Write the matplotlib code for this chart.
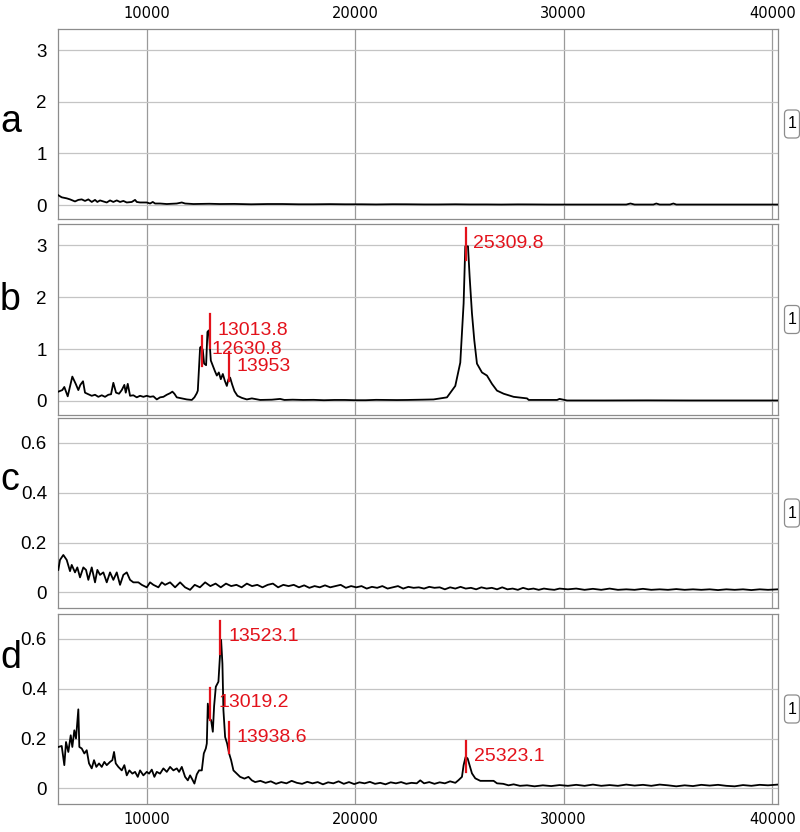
"""
Stacked mass spectra (panels a-d) with labelled peaks.

"""
# %%
import numpy as np
import matplotlib.pyplot as plt
from matplotlib.patches import FancyBboxPatch
from matplotlib.transforms import IdentityTransform, offset_copy

plt.rcParams['font.family'] = ['Liberation Sans', 'DejaVu Sans']

# %% Spectra: (m/z, intensity)
spec_a = np.array([
    (5757, 0.19), (5920, 0.15), (6160, 0.13), (6318, 0.11), (6558, 0.07),
    (6717, 0.10), (6880, 0.11), (7038, 0.08), (7197, 0.11), (7360, 0.06),
    (7518, 0.10), (7629, 0.06), (7758, 0.09), (7917, 0.07), (8080, 0.05),
    (8238, 0.09), (8397, 0.06), (8560, 0.09), (8718, 0.06), (8877, 0.08),
    (9040, 0.05), (9280, 0.06), (9438, 0.10), (9520, 0.06), (9678, 0.05),
    (10000, 0.05), (10158, 0.03), (10288, 0.06), (10398, 0.03), (10638, 0.03),
    (10960, 0.02), (11440, 0.03), (11680, 0.05), (11838, 0.03), (12237, 0.02),
    (13000, 0.025), (13500, 0.02), (14200, 0.022), (15000, 0.015),
    (15800, 0.02), (16500, 0.02), (17300, 0.015), (18000, 0.015),
    (18800, 0.018), (19500, 0.015), (20300, 0.015), (21000, 0.012),
    (21800, 0.016), (22500, 0.015), (23300, 0.012), (24000, 0.012),
    (24800, 0.015), (25500, 0.012), (26300, 0.012), (27000, 0.01),
    (27800, 0.013), (28500, 0.012), (29300, 0.01), (30000, 0.01),
    (31500, 0.01), (33000, 0.01), (33200, 0.03), (33400, 0.01), (34300, 0.01),
    (34440, 0.03), (34600, 0.01), (35100, 0.01), (35260, 0.03), (35400, 0.01),
    (37000, 0.01), (38500, 0.01), (40278, 0.01)])

spec_b = np.array([
    (5757, 0.18), (5949, 0.21), (6045, 0.27), (6208, 0.09), (6429, 0.47),
    (6592, 0.33), (6717, 0.21), (6813, 0.31), (6942, 0.38), (7038, 0.16),
    (7197, 0.13), (7360, 0.10), (7518, 0.12), (7677, 0.08), (7840, 0.11),
    (7998, 0.08), (8157, 0.12), (8286, 0.13), (8397, 0.35), (8526, 0.16),
    (8670, 0.14), (8800, 0.21), (8925, 0.31), (8992, 0.16), (9088, 0.33),
    (9198, 0.10), (9357, 0.11), (9520, 0.07), (9678, 0.10), (9837, 0.08),
    (10000, 0.10), (10158, 0.08), (10317, 0.09), (10480, 0.03), (10638, 0.07),
    (10797, 0.08), (10960, 0.12), (11118, 0.15), (11229, 0.18), (11325, 0.14),
    (11440, 0.07), (11680, 0.05), (11920, 0.03), (12160, 0.02), (12285, 0.07),
    (12400, 0.15), (12448, 0.20), (12558, 1.03), (12622, 1.05), (12688, 0.98),
    (12750, 0.72), (12846, 0.69), (12910, 1.33), (12976, 1.36), (13072, 0.78),
    (13168, 0.68), (13264, 0.58), (13360, 0.49), (13456, 0.55), (13552, 0.42),
    (13648, 0.52), (13744, 0.39), (13840, 0.29), (13917, 0.42), (13998, 0.45),
    (14094, 0.32), (14205, 0.19), (14349, 0.10), (14560, 0.06), (14800, 0.03),
    (15040, 0.05), (15438, 0.02), (16000, 0.025), (16398, 0.04),
    (16600, 0.02), (17000, 0.025), (17500, 0.02), (18000, 0.022),
    (18500, 0.015), (19000, 0.02), (19500, 0.02), (20000, 0.015),
    (20500, 0.015), (21000, 0.022), (21500, 0.02), (22000, 0.018),
    (22500, 0.02), (23200, 0.025), (23757, 0.03), (24400, 0.07),
    (24798, 0.29), (25038, 0.74), (25198, 1.88), (25278, 2.98), (25408, 2.98),
    (25486, 2.40), (25598, 1.69), (25710, 1.17), (25838, 0.72), (26078, 0.55),
    (26318, 0.49), (26558, 0.33), (26798, 0.20), (27117, 0.14), (27597, 0.08),
    (28240, 0.05), (28320, 0.02), (29680, 0.02), (29800, 0.04), (30160, 0.01),
    (32000, 0.01), (34000, 0.012), (36000, 0.01), (38000, 0.01),
    (40278, 0.01)])

spec_c = np.array([
    (5757, 0.09), (5838, 0.13), (5997, 0.15), (6160, 0.13), (6318, 0.085),
    (6400, 0.11), (6558, 0.08), (6669, 0.10), (6798, 0.06), (6957, 0.10),
    (7086, 0.09), (7197, 0.05), (7360, 0.10), (7518, 0.04), (7629, 0.09),
    (7758, 0.07), (7917, 0.08), (8080, 0.04), (8238, 0.08), (8397, 0.05),
    (8560, 0.08), (8718, 0.03), (8877, 0.07), (9040, 0.08), (9198, 0.05),
    (9357, 0.04), (9597, 0.04), (9760, 0.03), (10000, 0.02), (10158, 0.04),
    (10317, 0.03), (10557, 0.02), (10720, 0.04), (10878, 0.03), (11118, 0.04),
    (11358, 0.02), (11598, 0.04), (11838, 0.02), (12078, 0.01), (12300, 0.03),
    (12550, 0.02), (12800, 0.04), (13050, 0.025), (13300, 0.035),
    (13550, 0.02), (13800, 0.035), (14050, 0.025), (14300, 0.03),
    (14550, 0.02), (14800, 0.035), (15050, 0.025), (15300, 0.03),
    (15550, 0.02), (15800, 0.03), (16050, 0.035), (16300, 0.02),
    (16550, 0.03), (16800, 0.025), (17050, 0.03), (17300, 0.02),
    (17550, 0.028), (17800, 0.018), (18050, 0.025), (18300, 0.02),
    (18550, 0.028), (18800, 0.02), (19050, 0.025), (19300, 0.03),
    (19550, 0.018), (19800, 0.025), (20050, 0.02), (20300, 0.025),
    (20550, 0.015), (20800, 0.022), (21050, 0.018), (21300, 0.025),
    (21550, 0.015), (21800, 0.02), (22050, 0.025), (22300, 0.015),
    (22550, 0.022), (22800, 0.018), (23050, 0.02), (23300, 0.015),
    (23550, 0.022), (23800, 0.018), (24050, 0.02), (24300, 0.012),
    (24550, 0.02), (24800, 0.015), (25050, 0.022), (25300, 0.015),
    (25550, 0.018), (25800, 0.012), (26050, 0.02), (26300, 0.015),
    (26550, 0.018), (26800, 0.012), (27050, 0.02), (27300, 0.012),
    (27550, 0.015), (27800, 0.01), (28050, 0.018), (28300, 0.012),
    (28550, 0.015), (28800, 0.01), (29050, 0.015), (29300, 0.012),
    (29550, 0.01), (29800, 0.015), (30200, 0.012), (30600, 0.015),
    (31000, 0.01), (31400, 0.014), (31800, 0.01), (32200, 0.015),
    (32600, 0.01), (33000, 0.012), (33400, 0.01), (33800, 0.014),
    (34200, 0.01), (34600, 0.012), (35000, 0.01), (35400, 0.013),
    (35800, 0.01), (36200, 0.012), (36600, 0.01), (37000, 0.012),
    (37400, 0.009), (37800, 0.012), (38200, 0.01), (38600, 0.012),
    (39000, 0.009), (39400, 0.012), (39800, 0.01), (40278, 0.012)])

spec_d = np.array([
    (5757, 0.166), (5920, 0.17), (6045, 0.093), (6126, 0.186), (6237, 0.146),
    (6352, 0.213), (6429, 0.166), (6525, 0.233), (6606, 0.20), (6717, 0.317),
    (6765, 0.166), (6880, 0.16), (7005, 0.14), (7120, 0.153), (7230, 0.10),
    (7360, 0.08), (7470, 0.113), (7581, 0.086), (7710, 0.10), (7840, 0.086),
    (7965, 0.106), (8080, 0.093), (8238, 0.106), (8349, 0.113), (8430, 0.146),
    (8512, 0.10), (8637, 0.086), (8800, 0.072), (8925, 0.093), (9040, 0.052),
    (9165, 0.072), (9309, 0.059), (9438, 0.066), (9568, 0.046), (9678, 0.072),
    (9837, 0.052), (10000, 0.066), (10110, 0.059), (10240, 0.075),
    (10365, 0.046), (10480, 0.066), (10638, 0.059), (10797, 0.08),
    (10960, 0.066), (11118, 0.086), (11277, 0.072), (11440, 0.08),
    (11550, 0.066), (11680, 0.086), (11838, 0.046), (11968, 0.032),
    (12078, 0.052), (12189, 0.035), (12285, 0.019), (12400, 0.056),
    (12510, 0.072), (12640, 0.072), (12736, 0.14), (12832, 0.16),
    (12880, 0.18), (12928, 0.34), (13005, 0.28), (13086, 0.274),
    (13168, 0.227), (13230, 0.33), (13312, 0.408), (13437, 0.428),
    (13518, 0.542), (13566, 0.596), (13629, 0.50), (13677, 0.314),
    (13758, 0.206), (13854, 0.18), (13950, 0.14), (14046, 0.113),
    (14157, 0.072), (14320, 0.059), (14478, 0.046), (14685, 0.039),
    (14877, 0.046), (15040, 0.032), (15198, 0.025), (15450, 0.03),
    (15700, 0.022), (15950, 0.028), (16200, 0.018), (16450, 0.025),
    (16700, 0.02), (16950, 0.03), (17200, 0.022), (17450, 0.018),
    (17700, 0.026), (17950, 0.02), (18200, 0.025), (18450, 0.016),
    (18700, 0.024), (18950, 0.02), (19200, 0.028), (19450, 0.018),
    (19700, 0.025), (19950, 0.017), (20200, 0.024), (20450, 0.02),
    (20700, 0.026), (20950, 0.018), (21200, 0.022), (21450, 0.016),
    (21700, 0.024), (21950, 0.02), (22200, 0.025), (22450, 0.018),
    (22700, 0.022), (22950, 0.02), (23118, 0.032), (23300, 0.02),
    (23550, 0.025), (23800, 0.018), (24050, 0.024), (24300, 0.02),
    (24550, 0.028), (24800, 0.022), (24957, 0.033), (25118, 0.046),
    (25198, 0.093), (25294, 0.126), (25390, 0.12), (25486, 0.093),
    (25598, 0.06), (25758, 0.04), (25998, 0.03), (26300, 0.03),
    (26637, 0.03), (26800, 0.02), (27100, 0.018), (27350, 0.012),
    (27597, 0.016), (27900, 0.01), (28240, 0.012), (28600, 0.008),
    (29000, 0.012), (29400, 0.009), (29800, 0.013), (30200, 0.01),
    (30600, 0.014), (31000, 0.01), (31400, 0.015), (31800, 0.01),
    (32200, 0.013), (32600, 0.01), (33000, 0.015), (33400, 0.011),
    (33800, 0.014), (34200, 0.01), (34600, 0.015), (35000, 0.012),
    (35400, 0.008), (35800, 0.012), (36200, 0.009), (36600, 0.014),
    (37000, 0.011), (37400, 0.014), (37800, 0.01), (38200, 0.008),
    (38600, 0.013), (39000, 0.01), (39400, 0.014), (39800, 0.012),
    (40278, 0.015)])

# Labelled peaks
peaks_b = [12630.8, 13013.8, 13953, 25309.8]
peak_labels_b = ['12630.8', '13013.8', '13953', '25309.8']
peaks_d = [13019.2, 13523.1, 13938.6, 25323.1]
peak_labels_d = ['13019.2', '13523.1', '13938.6', '25323.1']

panel_names = ['a', 'b', 'c', 'd']
x_ticks = [10000, 20000, 30000, 40000]

# %% Layout (pixels of the 800 x 832 output)
W, H = 800, 832
x_range = (5742, 40278)
ax_top = [29, 224, 418, 614]       # top edge of each panel
ax_bot = [219, 415, 608, 804]      # bottom edge of each panel
ax_left, ax_right = 58, 778
# (line bottom, line top, text dx in px, text y) for every peak mark
marks_b = [(0.68, 1.26, 10, 1.00), (1.03, 1.68, 7.5, 1.36),
           (0.39, 0.94, 7.5, 0.66), (2.71, 3.34, 7.5, 3.03)]
marks_d = [(0.274, 0.404, 8.3, 0.343), (0.54, 0.67, 8.6, 0.61),
           (0.14, 0.267, 7.7, 0.204), (0.066, 0.19, 7.3, 0.129)]
label_y = [122, 300, 480, 658]     # centre of the big panel letters

red = '#e3121b'

fig = plt.figure(figsize=(W/100, H/100), dpi=100)

specs = [spec_a, spec_b, spec_c, spec_d]
axes = []
for k, spec in enumerate(specs):
    ax = fig.add_axes([ax_left/W, 1 - ax_bot[k]/H,
                       (ax_right - ax_left)/W, (ax_bot[k] - ax_top[k])/H])
    axes.append(ax)
    ax.plot(spec[:, 0], spec[:, 1], color='black', lw=1.3, zorder=3)
    ax.set_xlim(x_range)
    if k < 2:
        ax.set_ylim(-0.27, 3.41)
        ax.set_yticks([0, 1, 2, 3])
        ax.set_yticklabels(['0', '1', '2', '3'])
    else:
        ax.set_ylim(-0.063, 0.70)
        ax.set_yticks([0, 0.2, 0.4, 0.6])
        ax.set_yticklabels(['0', '0.2', '0.4', '0.6'])
    ax.set_xticks(x_ticks)
    ax.tick_params(length=0, labelsize=13.5, pad=8)
    ax.tick_params(axis='x', labelsize=10.5, pad=6,
                   labeltop=(k == 0), labelbottom=(k == 3))
    for lab in ax.get_xticklabels():
        lab.set_family('DejaVu Sans')
    ax.grid(True, axis='x', color='#9a9a9a', lw=0.9, zorder=1)
    ax.grid(True, axis='y', color='#c4c4c4', lw=0.9, zorder=1)
    for sp in ax.spines.values():
        sp.set_color('#8c8c8c')
        sp.set_linewidth(0.9)

    # Panel letter and the small "1" box on the right
    fig.text(0.0, 1 - label_y[k]/H, panel_names[k], fontsize=27,
             ha='left', va='center')
    y_c = H - (ax_top[k] + ax_bot[k])/2
    box = FancyBboxPatch((784.5, y_c - 14), 15, 28,
                         boxstyle='round,pad=0,rounding_size=4',
                         fc='white', ec='#8c8c8c', lw=0.9,
                         transform=IdentityTransform())
    fig.add_artist(box)
    fig.text(792/W, y_c/H, '1', fontsize=11.5, ha='center', va='center')

# %% Peak marks
for ax, peaks, labels, marks in [(axes[1], peaks_b, peak_labels_b, marks_b),
                                 (axes[3], peaks_d, peak_labels_d, marks_d)]:
    for p, lab, (y0, y1, dx, yt) in zip(peaks, labels, marks):
        ax.plot([p, p], [y0, y1], color=red, lw=1.6, zorder=4)
        tr = offset_copy(ax.transData, fig=fig, x=dx, y=0, units='dots')
        ax.text(p, yt, lab, color=red, fontsize=14, ha='left',
                va='center', transform=tr, zorder=5)

fig.savefig('out.png', dpi=100)
